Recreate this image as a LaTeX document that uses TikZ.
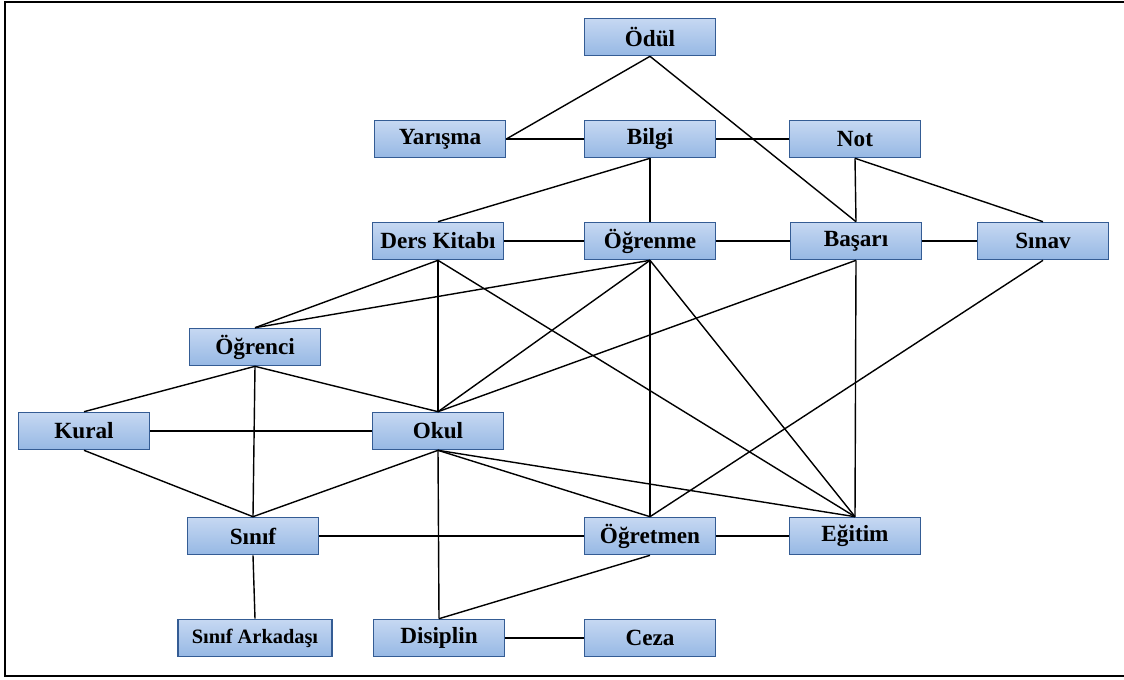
\documentclass[tikz,border=0pt]{standalone}
\usepackage{fontspec}
\setmainfont{Liberation Serif}
\usepackage{tikz}
\usetikzlibrary{shapes,positioning}
\usepackage{xcolor}
\definecolor{boxtop}{RGB}{198,216,242}
\definecolor{boxbottom}{RGB}{150,184,228}
\definecolor{boxedge}{RGB}{52,92,148}

\begin{document}
\begin{tikzpicture}[x=0.025cm,y=-0.025cm]
    \tikzstyle{concept} = [draw=boxedge,line width=1pt,rectangle,top color=boxtop,bottom color=boxbottom,minimum width=3.28cm,minimum height=0.93cm,font=\fontsize{16.5}{18}\selectfont\bfseries,inner sep=1pt]
    \tikzstyle{link} = [line width=1pt]
    \useasboundingbox (0,0) rectangle (1124,679);
    \draw[line width=1.5pt] (1130,2) -- (5,2) -- (5,676) -- (1130,676);
    % top rows
    \node[concept] (odul) at (650,37) {Ödül};
    \node[concept] (yarisma) at (440,139) {Yarışma};
    \node[concept] (bilgi) at (650,139) {Bilgi};
    \node[concept] (not) at (855,139) {Not};
    \node[concept] (kitap) at (438,241) {Ders Kitabı};
    \node[concept] (ogrenme) at (650,241) {Öğrenme};
    \node[concept] (basari) at (856,241) {Başarı};
    \node[concept] (sinav) at (1043,241) {Sınav};
    % middle rows
    \node[concept] (ogrenci) at (255,347) {Öğrenci};
    \node[concept] (kural) at (84,431) {Kural};
    \node[concept] (okul) at (438,431) {Okul};
    \node[concept] (sinif) at (253,536) {Sınıf};
    \node[concept] (ogretmen) at (650,536) {Öğretmen};
    \node[concept] (egitim) at (855,536) {Eğitim};
    % bottom row
    \node[concept,minimum width=3.85cm,font=\fontsize{14.5}{16}\selectfont\bfseries] (arkadas) at (255,638) {Sınıf Arkadaşı};
    \node[concept] (disiplin) at (439,638) {Disiplin};
    \node[concept] (ceza) at (650,638) {Ceza};

    \draw[link] (odul.south) -- (yarisma.east);
    \draw[link] (odul.south) -- (basari.north);
    \draw[link] (yarisma) -- (bilgi);
    \draw[link] (bilgi) -- (not);
    \draw[link] (bilgi.south) -- (kitap.north);
    \draw[link] (bilgi.south) -- (ogrenme.north);
    \draw[link] (not.south) -- (basari.north);
    \draw[link] (not.south) -- (sinav.north);
    \draw[link] (kitap) -- (ogrenme);
    \draw[link] (ogrenme) -- (basari);
    \draw[link] (basari) -- (sinav);
    \draw[link] (kitap.south) -- (ogrenci.north);
    \draw[link] (kitap.south) -- (okul.north);
    \draw[link] (kitap.south) -- (egitim.north);
    \draw[link] (ogrenme.south) -- (ogrenci.north);
    \draw[link] (ogrenme.south) -- (okul.north);
    \draw[link] (ogrenme.south) -- (ogretmen.north);
    \draw[link] (ogrenme.south) -- (egitim.north);
    \draw[link] (basari.south) -- (okul.north);
    \draw[link] (basari.south) -- (egitim.north);
    \draw[link] (sinav.south) -- (ogretmen.north);
    \draw[link] (ogrenci.south) -- (kural.north);
    \draw[link] (ogrenci.south) -- (okul.north);
    \draw[link] (ogrenci.south) -- (sinif.north);
    \draw[link] (kural) -- (okul);
    \draw[link] (kural.south) -- (sinif.north);
    \draw[link] (okul.south) -- (sinif.north);
    \draw[link] (okul.south) -- (ogretmen.north);
    \draw[link] (okul.south) -- (egitim.north);
    \draw[link] (okul.south) -- (disiplin.north);
    \draw[link] (sinif) -- (ogretmen);
    \draw[link] (ogretmen) -- (egitim);
    \draw[link] (sinif.south) -- (arkadas.north);
    \draw[link] (ogretmen.south) -- (disiplin.north);
    \draw[link] (disiplin) -- (ceza);
\end{tikzpicture}
\end{document}
